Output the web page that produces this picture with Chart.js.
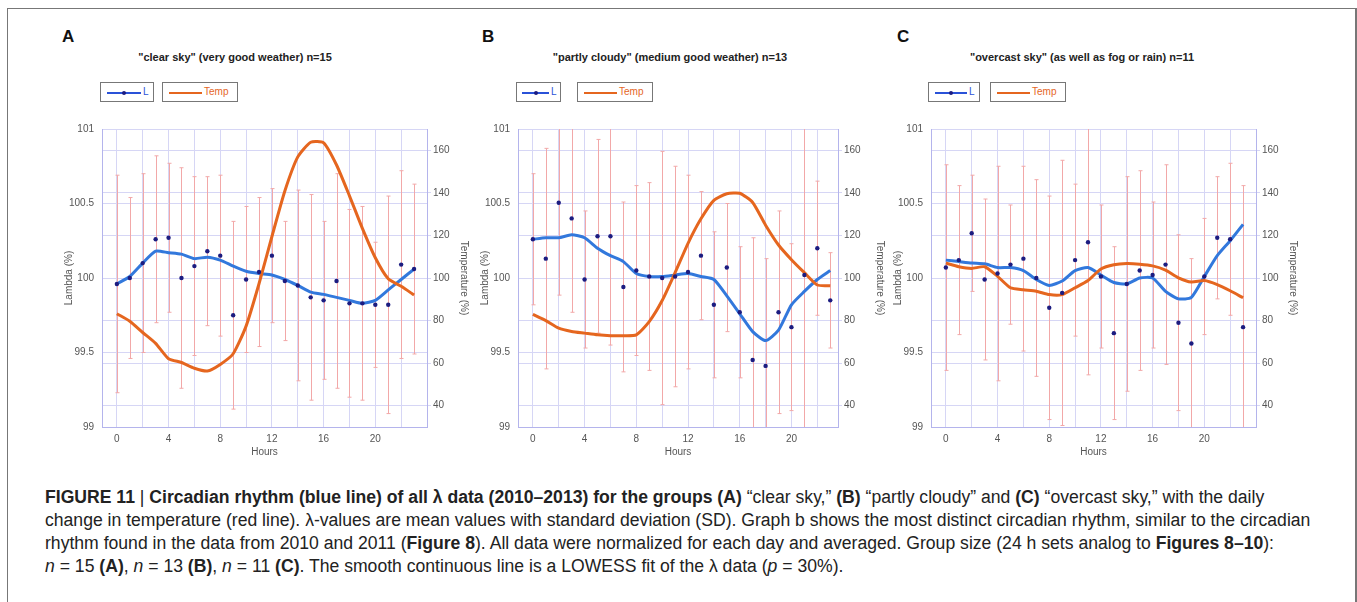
<!DOCTYPE html>
<html>
<head>
<meta charset="utf-8">
<script src="https://cdn.jsdelivr.net/npm/chart.js@4"></script>
<style>
  body { margin: 0; background: #fff; width: 1357px; height: 602px; overflow: hidden; position: relative; font-family: "Liberation Sans", Arial, sans-serif; }
  .frame { position: absolute; left: 7px; top: 8px; width: 1347px; height: 640px; border: 1px solid #777; border-right-width: 2px; }
  .letter { position: absolute; font-weight: bold; font-size: 17px; color: #111; }
  .ptitle { position: absolute; font-weight: bold; font-size: 11px; color: #222; white-space: nowrap; transform: translateX(-50%); }
  .lbox { position: absolute; top: 82px; height: 20px; border: 1px solid #777; box-sizing: border-box; font-size: 10px; }
  .lbox .ln { position: absolute; top: 9px; height: 2px; }
  .lbox .dot { position: absolute; top: 8px; width: 4px; height: 4px; border-radius: 2px; background: #1c1c80; }
  .lbox .tx { position: absolute; top: 3px; }
  .panel { position: absolute; top: 115px; width: 415px; height: 345px; }
  .caption { position: absolute; left: 45px; top: 486px; font-family: "Liberation Sans", Arial, sans-serif; font-size: 17.6px; line-height: 23px; color: #222; white-space: nowrap; }
  .caption b { font-weight: bold; }
</style>
</head>
<body>
<div class="frame"></div>

<div class="letter" style="left:62px;top:27px">A</div>
<div class="letter" style="left:482px;top:27px">B</div>
<div class="letter" style="left:897px;top:27px">C</div>

<div class="ptitle" style="left:235px;top:51px">"clear sky" (very good weather) n=15</div>
<div class="ptitle" style="left:670px;top:51px">"partly cloudy" (medium good weather) n=13</div>
<div class="ptitle" style="left:1082px;top:51px">"overcast sky" (as well as fog or rain) n=11</div>

<!-- leyendas -->
<div class="lbox" style="left:100px;width:54px"><div class="ln" style="left:6px;width:34px;background:#2a52d8"></div><div class="dot" style="left:21px"></div><div class="tx" style="left:42px;color:#2a52d8">L</div></div>
<div class="lbox" style="left:162px;width:76px"><div class="ln" style="left:6px;width:33px;background:#e5661f"></div><div class="tx" style="left:41px;color:#e5661f">Temp</div></div>
<div class="lbox" style="left:516px;width:45px"><div class="ln" style="left:5px;width:27px;background:#2a52d8"></div><div class="dot" style="left:17px"></div><div class="tx" style="left:34px;color:#2a52d8">L</div></div>
<div class="lbox" style="left:577px;width:76px"><div class="ln" style="left:6px;width:33px;background:#e5661f"></div><div class="tx" style="left:41px;color:#e5661f">Temp</div></div>
<div class="lbox" style="left:928px;width:52px"><div class="ln" style="left:6px;width:32px;background:#2a52d8"></div><div class="dot" style="left:20px"></div><div class="tx" style="left:40px;color:#2a52d8">L</div></div>
<div class="lbox" style="left:990px;width:76px"><div class="ln" style="left:6px;width:33px;background:#e5661f"></div><div class="tx" style="left:41px;color:#e5661f">Temp</div></div>

<div class="panel" style="left:55px"><canvas id="chartA"></canvas></div>
<div class="panel" style="left:471px"><canvas id="chartB"></canvas></div>
<div class="panel" style="left:884px"><canvas id="chartC"></canvas></div>

<div class="caption">
<b>FIGURE 11</b> | <b>Circadian rhythm (blue line) of all λ data (2010–2013) for the groups (A)</b> “clear sky,” <b>(B)</b> “partly cloudy” and <b>(C)</b> “overcast sky,” with the daily<br>
change in temperature (red line). λ-values are mean values with standard deviation (SD). Graph b shows the most distinct circadian rhythm, similar to the circadian<br>
rhythm found in the data from 2010 and 2011 (<b>Figure 8</b>). All data were normalized for each day and averaged. Group size (24 h sets analog to <b>Figures 8–10</b>):<br>
<i>n</i> = 15 <b>(A)</b>, <i>n</i> = 13 <b>(B)</b>, <i>n</i> = 11 <b>(C)</b>. The smooth continuous line is a LOWESS fit of the λ data (<i>p</i> = 30%).
</div>

<script>
// ==================== DATOS ====================

const HOURS = [0, 1, 2, 3, 4, 5, 6, 7, 8, 9, 10, 11, 12, 13, 14, 15, 16, 17, 18, 19, 20, 21, 22, 23];
const HOUR_LABELS = [0, 4, 8, 12, 16, 20];
const LAMBDA_TICKS = [99, 99.5, 100, 100.5, 101];
const TEMP_TICKS = [40, 60, 80, 100, 120, 140, 160];

// A - clear sky
const lambdaA = [99.96, 100.00, 100.10, 100.26, 100.27, 100.00, 100.08, 100.18, 100.15, 99.75, 99.99, 100.04,
                 100.15, 99.98, 99.95, 99.87, 99.85, 99.98, 99.83, 99.83, 99.82, 99.82, 100.09, 100.06];
const sdA     = [0.73, 0.54, 0.60, 0.56, 0.50, 0.74, 0.60, 0.50, 0.54, 0.63, 0.49, 0.50,
                 0.45, 0.40, 0.64, 0.69, 0.53, 0.72, 0.63, 0.65, 0.42, 0.73, 0.63, 0.57];
const lowessA = [99.96, 100.01, 100.10, 100.18, 100.17, 100.16, 100.13, 100.14, 100.12, 100.08, 100.045, 100.03,
                 100.02, 99.99, 99.95, 99.905, 99.89, 99.87, 99.85, 99.83, 99.85, 99.92, 99.99, 100.06];
const tempA   = [83.2, 79.7, 74.4, 69.3, 62.1, 60.3, 57.6, 56.3, 59.4, 64.4, 77.4, 97.3,
                 119.5, 140.9, 156.9, 163.8, 163.5, 153.1, 138.6, 123.3, 109.5, 99.6, 96.1, 92.0];

// B - partly cloudy
const lambdaB = [100.26, 100.13, 100.505, 100.40, 99.99, 100.28, 100.28, 99.94, 100.05, 100.01, 100.00, 100.01,
                 100.04, 100.15, 99.82, 100.07, 99.77, 99.45, 99.41, 99.77, 99.67, 100.02, 100.20, 99.85];
const sdB     = [0.44, 0.74, 0.62, 0.63, 0.46, 0.65, 0.73, 0.57, 0.57, 0.63, 0.85, 0.74,
                 0.65, 0.43, 0.49, 0.43, 0.44, 0.82, 0.72, 0.68, 0.56, 1.05, 0.45, 0.32];
const lowessB = [100.26, 100.27, 100.27, 100.29, 100.27, 100.20, 100.15, 100.11, 100.03, 100.01, 100.01, 100.02,
                 100.03, 100.01, 99.99, 99.88, 99.76, 99.64, 99.58, 99.65, 99.82, 99.91, 99.99, 100.05];
const tempB   = [82.9, 80.0, 76.4, 74.9, 74.1, 73.3, 72.9, 72.9, 73.3, 79.5, 89.4, 102.5,
                 116.3, 127.8, 136.5, 139.6, 139.8, 135.5, 124.8, 115.5, 108.6, 102.5, 96.7, 96.4];

// C - overcast sky
const lambdaC = [100.07, 100.12, 100.30, 99.99, 100.03, 100.09, 100.13, 100.00, 99.80, 99.90, 100.12, 100.24,
                 100.01, 99.63, 99.96, 100.05, 100.02, 100.09, 99.70, 99.56, 100.01, 100.27, 100.26, 99.67];
const sdC     = [0.69, 0.50, 0.39, 0.54, 0.72, 0.40, 0.62, 0.66, 0.75, 0.89, 0.51, 0.89,
                 0.48, 0.58, 0.72, 0.67, 0.49, 0.67, 0.59, 0.57, 0.39, 0.41, 0.51, 0.95];
const lowessC = [100.12, 100.11, 100.10, 100.095, 100.07, 100.07, 100.05, 99.99, 99.95, 99.98, 100.05, 100.07,
                 100.02, 99.97, 99.96, 100.00, 100.00, 99.91, 99.86, 99.87, 100.01, 100.15, 100.25, 100.36];
const tempC   = [107.0, 105.3, 104.5, 105.3, 100.8, 95.4, 94.5, 93.8, 92.2, 92.2, 95.4, 98.8,
                 104.2, 106.2, 106.8, 106.5, 105.7, 103.7, 100.1, 98.1, 98.8, 96.9, 94.0, 90.7];

// ==================== ESTILOS ====================

const GRID = '#d6d6f5';
const BORDE = '#b4b4ec';
const TICK_FONT = { family: '"Liberation Sans", Arial, sans-serif', size: 10 };

// Barras de error (media ± SD) dibujadas con las escalas del grafico
const errorBarsPlugin = {
  id: 'errorBars',
  beforeDatasetsDraw(chart, args, opts) {
    const { ctx, chartArea, scales } = chart;
    ctx.save();
    ctx.beginPath();
    ctx.rect(chartArea.left, chartArea.top, chartArea.width, chartArea.height);
    ctx.clip();
    ctx.strokeStyle = '#f2a8a8';
    ctx.lineWidth = 1;
    HOURS.forEach((h, i) => {
      const x = Math.round(scales.x.getPixelForValue(h)) + 0.5;
      const yTop = scales.y.getPixelForValue(opts.means[i] + opts.sds[i]);
      const yBot = scales.y.getPixelForValue(opts.means[i] - opts.sds[i]);
      ctx.beginPath();
      ctx.moveTo(x, yTop);
      ctx.lineTo(x, yBot);
      ctx.moveTo(x - 2, yTop);
      ctx.lineTo(x + 2, yTop);
      ctx.moveTo(x - 2, yBot);
      ctx.lineTo(x + 2, yBot);
      ctx.stroke();
    });
    ctx.restore();
  }
};

function puntos(valores) {
  return HOURS.map((h, i) => ({ x: h, y: valores[i] }));
}

function soloTicks(lista) {
  return scale => { scale.ticks = lista.map(v => ({ value: v })); };
}

function crearPanel(canvasId, lambda, sd, lowess, temp, xMax, anchoDerecho) {
  const ctx = document.getElementById(canvasId).getContext('2d');
  return new Chart(ctx, {
    type: 'scatter',
    data: {
      datasets: [
        {
          label: 'L',
          data: puntos(lambda),
          yAxisID: 'y',
          showLine: false,
          pointRadius: 2.2,
          pointBackgroundColor: '#1c1c80',
          pointBorderWidth: 0,
          order: 0
        },
        {
          label: 'LOWESS',
          data: puntos(lowess),
          yAxisID: 'y',
          showLine: true,
          borderColor: '#3278dc',
          borderWidth: 3,
          pointRadius: 0,
          tension: 0.2,
          order: 2
        },
        {
          label: 'Temp',
          data: puntos(temp),
          yAxisID: 'y2',
          showLine: true,
          borderColor: '#e5661f',
          borderWidth: 3,
          pointRadius: 0,
          tension: 0.2,
          order: 1
        }
      ]
    },
    options: {
      responsive: true,
      maintainAspectRatio: false,
      animation: false,
      layout: { padding: { top: 7, left: 0, right: 0, bottom: 0 } },
      plugins: {
        legend: { display: false },
        tooltip: { enabled: false },
        errorBars: { means: lambda, sds: sd }
      },
      scales: {
        x: {
          type: 'linear',
          min: -1.15,
          max: xMax,
          afterFit: s => { s.height = 33; },
          afterBuildTicks: scale => {
            // rejilla cada 2 h, etiquetas cada 4 h
            scale.ticks = [];
            for (let h = 0; h <= 22; h += 2) scale.ticks.push({ value: h });
          },
          grid: { color: GRID, drawTicks: false },
          border: { color: BORDE },
          ticks: {
            autoSkip: false,
            maxRotation: 0,
            padding: 6,
            color: '#555',
            font: TICK_FONT,
            callback: v => (HOUR_LABELS.includes(v) ? v : '')
          },
          title: { display: true, text: 'Hours', color: '#555', font: TICK_FONT, padding: { top: 0, bottom: 2 } }
        },
        y: {
          position: 'left',
          min: 99,
          max: 101,
          afterFit: s => { s.width = 47; },
          afterBuildTicks: soloTicks(LAMBDA_TICKS),
          grid: { color: GRID, drawTicks: false },
          border: { color: BORDE },
          ticks: { padding: 8, color: '#555', font: TICK_FONT, callback: v => String(v) },
          title: { display: true, text: 'Lambda (%)', color: '#555', font: TICK_FONT, padding: { top: 8, bottom: 0 } }
        },
        y2: {
          position: 'right',
          min: 30,
          max: 170,
          afterFit: s => { s.width = anchoDerecho; },
          afterBuildTicks: soloTicks(TEMP_TICKS),
          grid: { color: GRID, drawTicks: true, tickLength: 4 },
          border: { color: BORDE },
          ticks: { padding: 2, color: '#555', font: TICK_FONT, callback: v => String(v) },
          title: { display: true, text: 'Temperature (%)', color: '#555', font: TICK_FONT, padding: { top: 0, bottom: 2 } }
        }
      }
    },
    plugins: [errorBarsPlugin]
  });
}

// ==================== INICIALIZACION ====================

crearPanel('chartA', lambdaA, sdA, lowessA, tempA, 24, 43);
crearPanel('chartB', lambdaB, sdB, lowessB, tempB, 23.6, 48);
crearPanel('chartC', lambdaC, sdC, lowessC, tempC, 24, 43);
</script>
</body>
</html>
